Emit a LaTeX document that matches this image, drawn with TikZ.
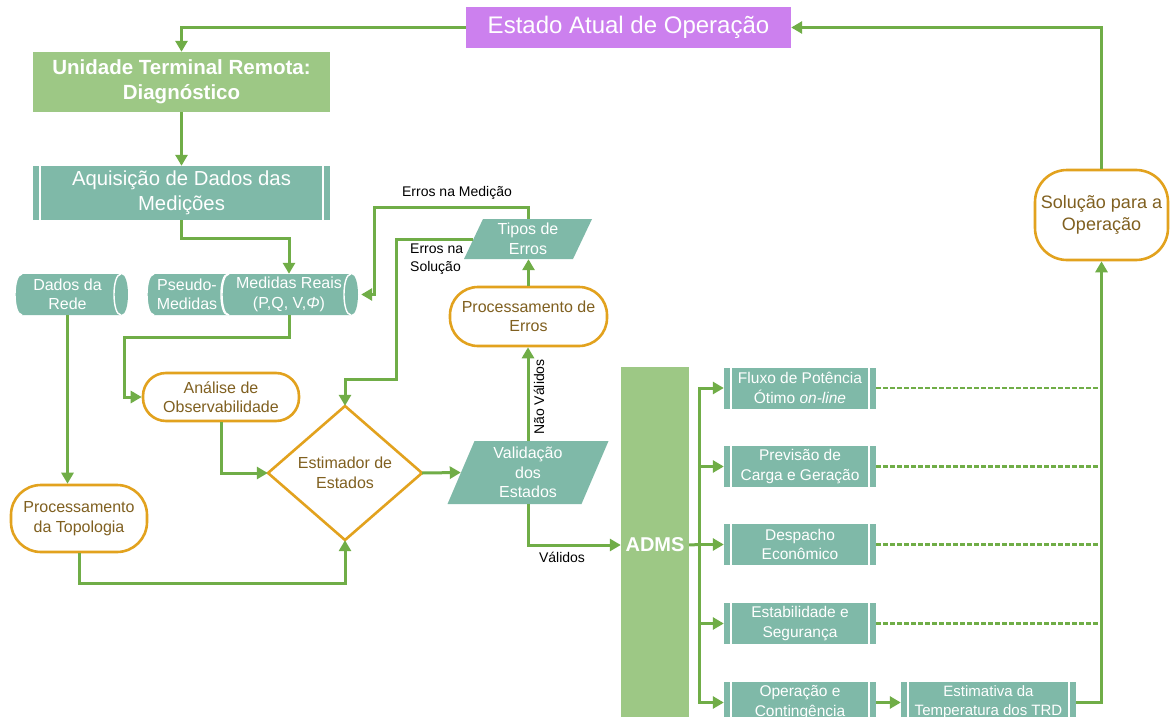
\documentclass[tikz,border=0pt]{standalone}
\usepackage{fontspec}
\setmainfont{Liberation Sans}
\usetikzlibrary{arrows.meta,calc}

\definecolor{lgreen}{RGB}{112,173,71}
\definecolor{boxgreen}{RGB}{157,200,133}
\definecolor{tealbox}{RGB}{127,185,168}
\definecolor{purplebox}{RGB}{204,128,238}
\definecolor{orangeb}{RGB}{226,162,30}
\definecolor{brownt}{RGB}{128,96,32}

% font size / baseline skip in pt
\newcommand\pxfont[2]{\fontsize{#1}{#2}\selectfont}

% horizontal storage drum: left, top, right, bottom
\newcommand\drum[4]{%
  \fill[tealbox] (#1+7,#2) -- (#3-7,#2) .. controls (#3+2.33,#2) and (#3+2.33,#4) .. (#3-7,#4)
     -- (#1+7,#4) .. controls (#1-2.33,#4) and (#1-2.33,#2) .. (#1+7,#2) -- cycle;
  \draw[white,line width=1.4pt] (#1+7,#2) .. controls (#1-2.33,#2) and (#1-2.33,#4) .. (#1+7,#4);
  \draw[white,line width=1.4pt] (#3-7,#2) .. controls (#3-16.33,#2) and (#3-16.33,#4) .. (#3-7,#4);}

% slanted data box: centre x, centre y, width at mid height, height, slant
\newcommand\slantbox[5]{%
  \fill[tealbox] (#1-#3/2+#5/2,#2-#4/2) -- (#1+#3/2+#5/2,#2-#4/2)
     -- (#1+#3/2-#5/2,#2+#4/2) -- (#1-#3/2-#5/2,#2+#4/2) -- cycle;}

\tikzset{
  conn/.style={draw=lgreen, line width=3pt},
  arr/.style={conn, -{Triangle[length=11pt,width=12pt]}},
  dashconn/.style={draw=lgreen, line width=2.2pt, dash pattern=on 4.5pt off 2.5pt},
  plainbox/.style={rectangle, inner sep=0pt, align=center, text=white},
  greenbox/.style={plainbox, fill=boxgreen, font=\bfseries\pxfont{20.5}{25}},
  procbox/.style={plainbox, fill=tealbox, path picture={
     \draw[white,line width=2pt]
       ([xshift=7pt]path picture bounding box.north west) -- ([xshift=7pt]path picture bounding box.south west)
       ([xshift=-7pt]path picture bounding box.north east) -- ([xshift=-7pt]path picture bounding box.south east);}},
  funcbox/.style={procbox, font=\pxfont{15.5}{19.5}, minimum width=152pt, minimum height=41pt},
  termbox/.style={rectangle, draw=orangeb, line width=2.6pt, fill=white, text=brownt,
     align=center, inner sep=0pt, font=\pxfont{16}{19.5}},
  datatext/.style={plainbox, font=\pxfont{16}{19.5}},
  lbl/.style={inner sep=0pt, text=black, font=\pxfont{14}{18}}
}

\begin{document}
\begin{tikzpicture}[x=1pt,y=-1pt]
\clip (0,0) rectangle (1172,717);
\fill[white] (0,0) rectangle (1172,717);

% ---------- shapes drawn by hand ----------
\drum{15}{274}{128}{315}
\drum{147}{274}{235}{315}
\drum{222}{274}{358}{315}
\slantbox{528}{239}{109}{40}{19}
\slantbox{528}{472.5}{134}{63}{27}
\draw[orangeb,line width=2.6pt,fill=white,line join=miter]
  (345,406) -- (422,473) -- (345,540) -- (268,473) -- cycle;

% ---------- nodes ----------
\node[plainbox, fill=purplebox, font=\pxfont{24}{28}, minimum width=325pt, minimum height=41pt]
  (estado) at (628.5,27.5) {Estado Atual de Operação};
\node[greenbox, minimum width=297pt, minimum height=60pt]
  (unidade) at (181.5,82) {Unidade Terminal Remota:\\Diagnóstico};
\node[procbox, font=\pxfont{20.3}{25}, minimum width=297pt, minimum height=54pt]
  (aquis) at (181.5,193) {Aquisição de Dados das\\Medições};

\node[datatext, minimum width=105pt, minimum height=41pt] (dados) at (67.5,294.5) {Dados da\\Rede};
\node[datatext, minimum width=60pt, minimum height=41pt] (pseudo) at (187,294.5) {Pseudo-\\Medidas};
\node[datatext, minimum width=136pt, minimum height=41pt] (medidas) at (289,294.5) {Medidas Reais\\(P,Q, V,\textit{Φ})};

\node[datatext, minimum width=109pt, minimum height=40pt] (tipos) at (528,239) {Tipos de\\Erros};
\node[termbox, rounded corners=28pt, minimum width=157pt, minimum height=59pt]
  (procerr) at (528.5,316.5) {Processamento de\\Erros};
\node[termbox, rounded corners=23pt, minimum width=156pt, minimum height=48pt, font=\pxfont{16}{19}]
  (analise) at (221,397) {Análise de\\Observabilidade};
\node[termbox, rounded corners=30pt, minimum width=136pt, minimum height=67pt, font=\pxfont{16}{20}]
  (topo) at (79,518.5) {Processamento\\da Topologia};
\node[inner sep=0pt, align=center, text=brownt, font=\pxfont{16}{20}, minimum width=154pt, minimum height=134pt]
  (est) at (345,473) {Estimador de\\Estados};
\node[datatext, minimum width=134pt, minimum height=63pt] (val) at (528,472.5) {Validação\\dos\\Estados};

\node[plainbox, fill=boxgreen, font=\bfseries\pxfont{20}{24}, minimum width=68pt, minimum height=356pt]
  (adms) at (655,545) {ADMS};

\node[funcbox] (f1) at (800,388) {Fluxo de Potência\\Ótimo \textit{on-line}};
\node[funcbox] (f2) at (800,466.5) {Previsão de\\Carga e Geração};
\node[funcbox] (f3) at (800,544.5) {Despacho\\Econômico};
\node[funcbox] (f4) at (800,623.5) {Estabilidade e\\Segurança};
\node[funcbox] (f5) at (800,702.5) {Operação e\\Contingência};
\node[funcbox, font=\pxfont{15}{19}, minimum width=175pt] (est2) at (988.5,702.5) {Estimativa da\\Temperatura dos TRD};

\node[termbox, rounded corners=32pt, minimum width=133pt, minimum height=90pt, font=\pxfont{18}{22}]
  (sol) at (1101.5,215) {Solução para a\\Operação};

% ---------- labels ----------
\node[lbl] (lmed) at (457,193) {Erros na Medição};
\node[lbl, anchor=west, align=left] (lsol) at (410,259) {Erros na\\Solução};
\node[lbl, rotate=90] (lnv) at (539,397) {Não Válidos};
\node[lbl] (lval) at (562,557) {Válidos};

% ---------- connectors ----------
\draw[arr] (estado.west) -| (unidade.north);
\draw[arr] (unidade.south) -- (aquis.north);
\draw[arr] (aquis.south) -- ++(0,18) -| (medidas.north);
\draw[arr] (tipos.north) -- ++(0,-11) -| ([xshift=17pt]medidas.east) -- ([xshift=4pt]medidas.east);
\draw[arr] (tipos.west) -- ++(-76.5,0) |- ([yshift=26pt]est.north) -- (est.north);
\draw[arr] (procerr.north) -- (procerr.north |- tipos.south);
\draw[arr] (val.north) -- (val.north |- procerr.south);
\draw[arr] (val.south) |- (adms.west);
\draw[arr] (medidas.south) -- ++(0,22) -| ([xshift=-17pt]analise.west) -- (analise.west);
\draw[arr] (dados.south) -- (dados.south |- topo.north);
\draw[arr] (topo.south) -- ++(0,30) -| (est.south);
\draw[arr] (analise.south) |- (est.west);
\draw[arr] (est.east) -- (val.west);

\draw[conn] (adms.east) -- ([xshift=-24pt]f3.west);
\draw[conn, line cap=rect] ([xshift=-24pt]f1.west) -- ([xshift=-24pt]f5.west);
\foreach \f in {f1,f2,f3,f4,f5}
  \draw[arr] ([xshift=-24pt]\f.west) -- (\f.west);
\foreach \f in {f1,f2,f3,f4}
  \draw[dashconn] (\f.east) -- (\f.east -| sol.south);
\draw[arr] (f5.east) -- (est2.west);
\draw[arr] (est2.east) -| (sol.south);
\draw[arr] (sol.north) |- (estado.east);
\end{tikzpicture}
\end{document}
